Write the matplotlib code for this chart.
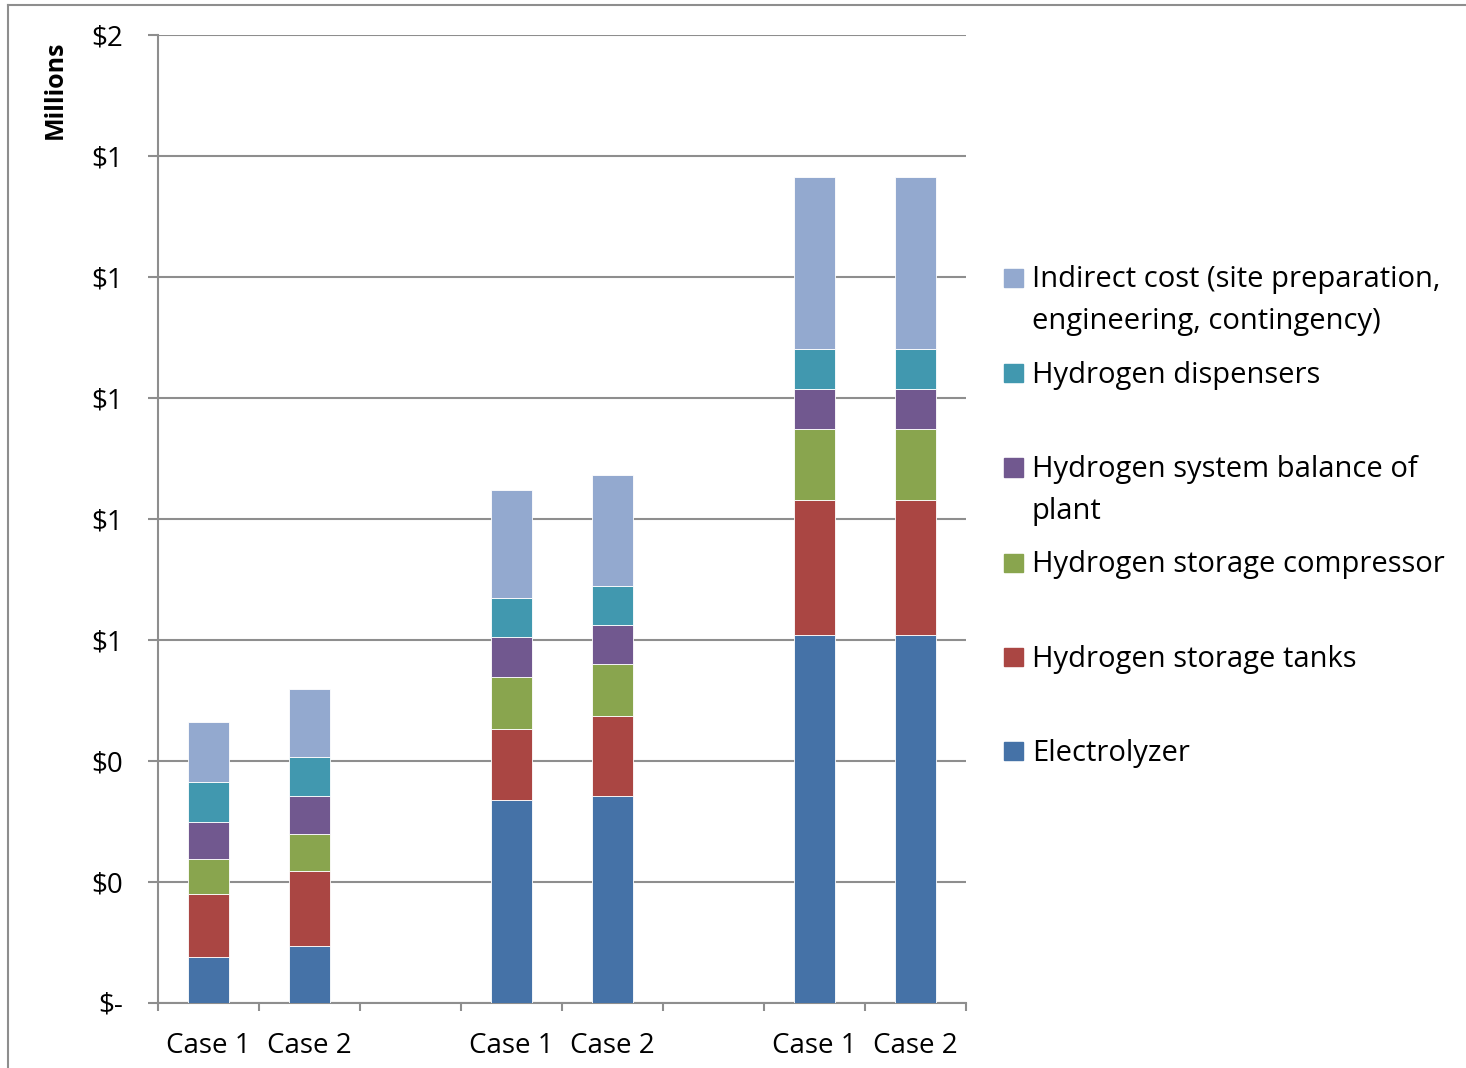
import matplotlib
matplotlib.use("Agg")
import matplotlib.pyplot as plt
from matplotlib.patches import Rectangle
from matplotlib.lines import Line2D
import numpy as np

plt.rcParams["font.family"] = ["Open Sans", "DejaVu Sans"]

# slots on the category axis; empty strings are the gaps between groups
slot_labels = ["Case 1", "Case 2", "", "Case 1", "Case 2", "", "Case 1", "Case 2"]
bar_slots = [0, 1, 3, 4, 6, 7]

# cost components in $ millions, bottom to top
series_names = [
    "Electrolyzer",
    "Hydrogen storage tanks",
    "Hydrogen storage compressor",
    "Hydrogen system balance of\nplant",
    "Hydrogen dispensers",
    "Indirect cost (site preparation,\nengineering, contingency)",
]
electrolyzer = [0.075, 0.094, 0.335, 0.342, 0.607, 0.607]
storage_tanks = [0.104, 0.124, 0.117, 0.131, 0.224, 0.224]
storage_compressor = [0.058, 0.061, 0.087, 0.087, 0.117, 0.117]
balance_of_plant = [0.062, 0.062, 0.065, 0.064, 0.067, 0.067]
dispensers = [0.065, 0.065, 0.065, 0.065, 0.065, 0.065]
indirect_cost = [0.100, 0.112, 0.178, 0.184, 0.285, 0.285]

colors = ["#4572A7", "#AA4643", "#89A54E", "#71588F", "#4198AF", "#93A9CF"]

y_ticks = [0.0, 0.2, 0.4, 0.6, 0.8, 1.0, 1.2, 1.4, 1.6]
y_tick_labels = ["$-", "$0", "$0", "$1", "$1", "$1", "$1", "$1", "$2"]

W, H = 1466, 1068
fig = plt.figure(figsize=(W / 100, H / 100), dpi=100)
ax = fig.add_axes([158 / W, 1 - 1002.5 / H, 808 / W, 967.5 / H])

grid_col = "#8e8e8e"
stack = [electrolyzer, storage_tanks, storage_compressor, balance_of_plant, dispensers, indirect_cost]
bottom = np.zeros(len(bar_slots))
for vals, col in zip(stack, colors):
    ax.bar(bar_slots, vals, width=0.4, bottom=bottom, color=col,
           edgecolor="#ffffff", linewidth=0.6, zorder=3)
    bottom += np.array(vals)

ax.set_xlim(-0.5, len(slot_labels) - 0.5)
ax.set_ylim(0, 1.6)
ax.set_yticks(y_ticks)
ax.set_yticklabels(y_tick_labels)
ax.set_xticks(np.arange(len(slot_labels)))
ax.set_xticklabels(slot_labels)
ax.set_xticks(np.arange(len(slot_labels) + 1) - 0.5, minor=True)

ax.yaxis.grid(True, color=grid_col, linewidth=1.5, zorder=0)
ax.set_axisbelow(True)
for s in ["top", "right"]:
    ax.spines[s].set_visible(False)
for s in ["left", "bottom"]:
    ax.spines[s].set_color(grid_col)
    ax.spines[s].set_linewidth(1.5)

ax.tick_params(axis="y", length=7, width=1.5, color=grid_col, pad=18, labelsize=20)
ax.tick_params(axis="x", which="major", length=0, pad=21, labelsize=20)
ax.tick_params(axis="x", which="minor", length=6, width=1.5, color=grid_col)

fig.text(55 / W, 1 - 90 / H, "Millions", rotation=90, fontsize=18,
         fontweight="bold", ha="center", va="center")

# legend drawn by hand so entries keep the even spacing of the original
leg_y = [751, 657, 562.5, 467.5, 373, 278]
for name, col, yc in zip(series_names, colors, leg_y):
    fig.patches.append(Rectangle((1004 / W, 1 - (yc + 9) / H), 19 / W, 18 / H,
                                 transform=fig.transFigure, color=col))
    for i, line in enumerate(name.split("\n")):
        fig.text(1032 / W, 1 - (yc + 2 + 42 * i) / H, line, fontsize=21,
                 ha="left", va="center")

# outer chart frame (cut at the right and bottom edges)
fig.add_artist(Line2D([8 / W, 1], [1 - 5 / H, 1 - 5 / H], color=grid_col, linewidth=1.5))
fig.add_artist(Line2D([8 / W, 8 / W], [0, 1 - 5 / H], color=grid_col, linewidth=1.5))

fig.savefig("out.png", dpi=100)
